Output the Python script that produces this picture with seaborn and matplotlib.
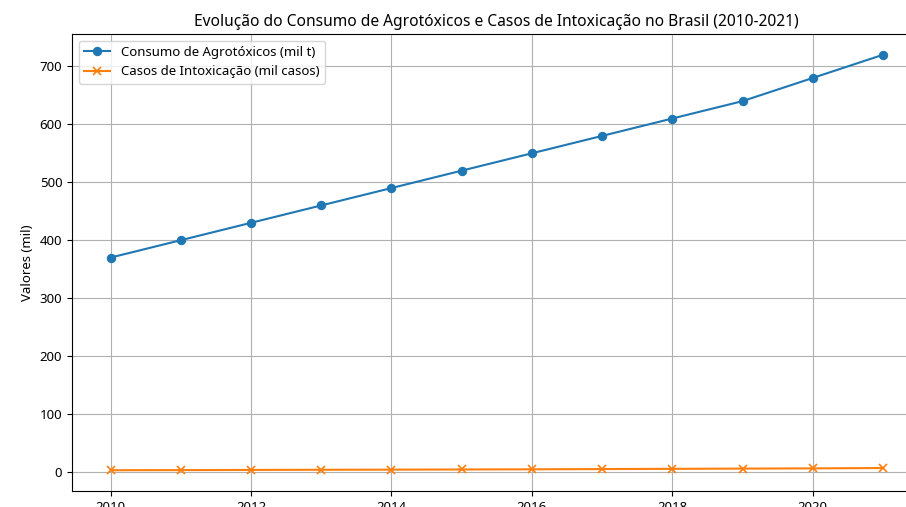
import matplotlib
matplotlib.use('Agg')
import matplotlib.pyplot as plt
from matplotlib.transforms import Bbox
import pandas as pd
import seaborn as sns

anos = [2010, 2011, 2012, 2013, 2014, 2015, 2016, 2017, 2018, 2019, 2020, 2021]
consumo = [370, 400, 430, 460, 490, 520, 550, 580, 610, 640, 680, 720]
intoxicacao = [3.0, 3.2, 3.5, 3.8, 4.0, 4.3, 4.6, 5.0, 5.4, 5.8, 6.2, 6.8]

df = pd.DataFrame({'Ano': anos, 'consumo': consumo, 'intoxicacao': intoxicacao})

plt.style.use('default')
plt.rcParams['font.family'] = ['Noto Sans', 'DejaVu Sans']
plt.rcParams['font.size'] = 9.5

# figura mais larga, depois recortada para 906x507
fig = plt.figure(figsize=(9.4, 5.07), dpi=100)
ax = fig.add_axes([72 / 940, 16 / 507, 849.6 / 940, 457 / 507])

sns.lineplot(data=df, x='Ano', y='consumo', marker='o', markersize=6,
             markeredgecolor='#1f77b4', color='#1f77b4', linewidth=1.5,
             label='Consumo de Agrotóxicos (mil t)', ax=ax)
sns.lineplot(data=df, x='Ano', y='intoxicacao', marker='x', markersize=6,
             markeredgewidth=1.2, markeredgecolor='#ff7f0e', color='#ff7f0e',
             linewidth=1.5, dashes=False,
             label='Casos de Intoxicação (mil casos)', ax=ax)

ax.set_title('Evolução do Consumo de Agrotóxicos e Casos de Intoxicação no Brasil (2010-2021)', fontsize=11.2)
ax.set_xlabel('Ano')
ax.set_ylabel('Valores (mil)')
ax.grid(True)
ax.legend(loc='upper left')

fig.savefig('out.png', dpi=100, bbox_inches=Bbox.from_bounds(0, 0, 9.06, 5.07))
